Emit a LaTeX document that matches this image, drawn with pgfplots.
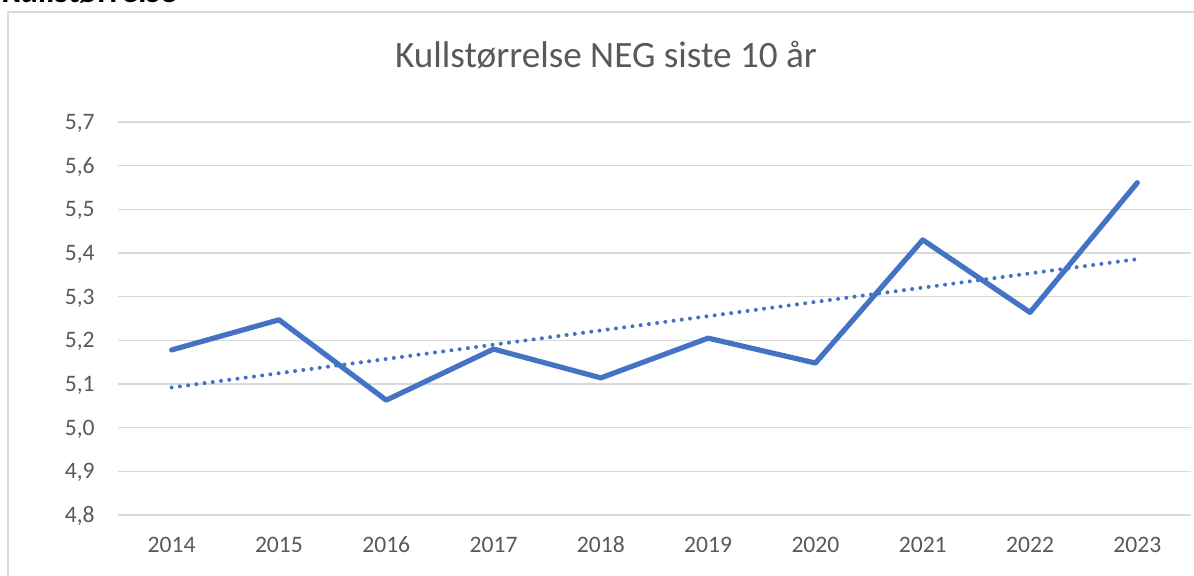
\documentclass[border=0pt]{standalone}
\usepackage{pgfplots}
\pgfplotsset{compat=1.18}
\usepackage{fontspec}
\setmainfont{Carlito}
\definecolor{xlblue}{HTML}{4472C4}
\definecolor{xltext}{HTML}{595959}
\definecolor{xlgrid}{HTML}{D9D9D9}

\begin{document}
\begin{tikzpicture}
% frame of the chart (runs off the right and bottom edge)
\draw[xlgrid, line width=0.6pt] (4pt,-10pt) rectangle (620pt,282pt);
% clipped heading above the chart
\node[anchor=base west, inner sep=0pt, font=\fontsize{17}{19}\selectfont\bfseries\itshape]
  at (1pt,286.5pt) {Kullstørrelse};
\node[anchor=base, inner sep=0pt, text=xltext, font=\fontsize{18.6}{21}\selectfont]
  at (303pt,254pt) {Kullstørrelse NEG siste 10 år};

\begin{axis}[
    at={(59pt,30.5pt)}, anchor=south west,
    scale only axis,
    width=536.5pt, height=196.5pt,
    xmin=-0.5, xmax=9.5,
    ymin=4.8, ymax=5.7,
    xtick={0,...,9},
    xticklabels={2014,2015,2016,2017,2018,2019,2020,2021,2022,2023},
    ytick={4.8,4.9,...,5.75},
    ymajorgrids=true,
    grid style={xlgrid, line width=0.6pt},
    major tick length=0pt,
    axis line style={draw=none},
    tick label style={font=\fontsize{11.8}{13}\selectfont, text=xltext},
    /pgf/number format/assume math mode=true,
    /pgf/number format/use comma,
    /pgf/number format/fixed,
    /pgf/number format/fixed zerofill,
    /pgf/number format/precision=1,
    yticklabel style={anchor=base east, inner sep=0pt, xshift=-11.5pt, yshift=-3.7pt},
    xticklabel style={anchor=base, inner sep=0pt, yshift=-19pt},
    clip=false,
]
% trend line (linear fit, end points)
\addplot[xlblue, line width=2pt, line cap=round, dash pattern=on 0pt off 4.15pt]
  coordinates {(0,5.092) (9,5.386)};
\addplot[xlblue, line width=2.6pt, line join=round, line cap=round, mark=none]
  coordinates {
  (0,5.178) (1,5.247) (2,5.063) (3,5.180) (4,5.114)
  (5,5.205) (6,5.148) (7,5.430) (8,5.264) (9,5.561)
  };
\end{axis}
\pgfresetboundingbox
\useasboundingbox (0,0) rectangle (597pt,288pt);
\end{tikzpicture}
\end{document}
